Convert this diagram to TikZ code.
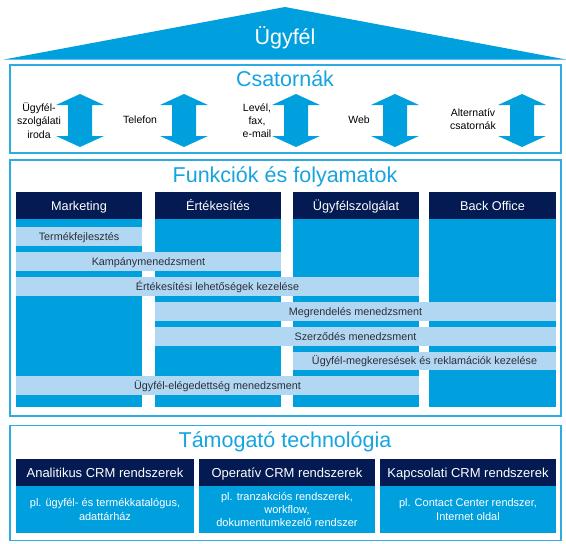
\documentclass[tikz,border=0pt]{standalone}
\usepackage{fontspec}
\setmainfont{Liberation Sans}
\definecolor{mainblue}{RGB}{0,160,222}
\definecolor{navy}{RGB}{3,26,82}
\definecolor{barc}{RGB}{178,215,242}
\definecolor{framec}{RGB}{45,172,228}
\definecolor{titlec}{RGB}{22,164,224}
\definecolor{bartext}{RGB}{45,45,55}
\tikzset{
  frame/.style={draw=framec, line width=1.7pt},
  blk/.style={anchor=north west, inner sep=0pt, outer sep=0pt},
  titletxt/.style={anchor=base, inner sep=0pt, text=titlec, font=\fontsize{21.5}{24}\selectfont},
  colhead/.style={blk, fill=navy, text=white, minimum width=#1, minimum height=27pt,
    text height=9.1pt, text depth=0pt, font=\fontsize{12.7}{15}\selectfont},
  colbody/.style={blk, fill=mainblue, minimum width=#1, minimum height=189pt},
  barbox/.style={blk, fill=barc, text=bartext, minimum width=#1, minimum height=19pt,
    text height=7.7pt, text depth=0pt, font=\fontsize{10.8}{13}\selectfont},
  techhead/.style={blk, fill=navy, text=white, minimum width=#1, minimum height=27pt,
    text height=9.3pt, text depth=0pt, font=\fontsize{13}{15}\selectfont},
  techbody/.style={blk, fill=mainblue, minimum width=#1, minimum height=47pt},
  techtxt/.style={align=center, text=white, inner sep=0pt, font=\fontsize{11}{13.3}\selectfont},
  chlabel/.style={align=center, text=black, inner sep=0pt, font=\fontsize{10.5}{13.3}\selectfont},
  updown/.pic={\fill[mainblue] (0,-26.5) -- (24,-15.5) -- (12,-15.5) -- (12,15.5) -- (24,15.5)
      -- (0,26.5) -- (-24,15.5) -- (-12,15.5) -- (-12,-15.5) -- (-24,-15.5) -- cycle;}
}
\begin{document}
\begin{tikzpicture}[x=1pt,y=-1pt]
\useasboundingbox (0,0) rectangle (566,544);
% roof
\fill[mainblue] (4,59.5) -- (285,7) -- (566,59.5) -- cycle;
\node[anchor=base, inner sep=0pt, text=white, font=\fontsize{21.5}{24}\selectfont] (roof) at (285,44) {Ügyfél};

% Csatornak
\draw[frame] (9.8,65) rectangle (561.3,153.2);
\node[titletxt] (csat) at (285,86.5) {Csatornák};
\pic (a1) at (80,120.5) {updown};
\pic (a2) at (184,120.5) {updown};
\pic (a3) at (296,120.5) {updown};
\pic (a4) at (395,120.5) {updown};
\pic (a5) at (522,120.5) {updown};
\node[chlabel] (l1) at (39,120.5) {Ügyfél-\\szolgálati\\iroda};
\node[chlabel] (l2) at (140,119.5) {Telefon};
\node[chlabel] (l3) at (257,120.5) {Levél,\\fax,\\e-mail};
\node[chlabel] (l4) at (359,119.5) {Web};
\node[chlabel] (l5) at (473,119.5) {Alternatív\\csatornák};

% Funkciok
\draw[frame] (9.8,160.2) rectangle (561.3,416);
\node[titletxt] (funk) at (285,182) {Funkciók és folyamatok};
\node[colbody=126pt] (b1) at (16,218) {};
\node[colbody=126pt] (b2) at (155,218) {};
\node[colbody=126pt] (b3) at (293,218) {};
\node[colbody=127pt] (b4) at (429,218) {};
\node[colhead=126pt] (h1) at (16,192) {Marketing};
\node[colhead=126pt] (h2) at (155,192) {Értékesítés};
\node[colhead=126pt] (h3) at (293,192) {Ügyfélszolgálat};
\node[colhead=127pt] (h4) at (429,192) {Back Office};
\node[barbox=126pt] (r1) at (16,227) {Termékfejlesztés};
\node[barbox=265pt] (r2) at (16,252) {Kampánymenedzsment};
\node[barbox=403pt] (r3) at (16,277) {Értékesítési lehetőségek kezelése};
\node[barbox=401pt] (r4) at (155,302) {Megrendelés menedzsment};
\node[barbox=401pt] (r5) at (155,327) {Szerződés menedzsment};
\node[barbox=263pt, minimum height=18pt] (r6) at (293,351.5) {Ügyfél-megkeresések és reklamációk kezelése};
\node[barbox=403pt] (r7) at (16,376) {Ügyfél-elégedettség menedzsment};

% Tamogato technologia
\draw[frame] (9.8,425.5) rectangle (561.3,540.5);
\node[titletxt] (tam) at (285,447.5) {Támogató technológia};
\node[techhead=178pt] (t1) at (16,459) {Analitikus CRM rendszerek};
\node[techhead=176pt] (t2) at (199,459) {Operatív CRM rendszerek};
\node[techhead=176pt] (t3) at (380,459) {Kapcsolati CRM rendszerek};
\node[techbody=178pt] (s1) at (16,486) {};
\node[techbody=176pt] (s2) at (199,486) {};
\node[techbody=176pt] (s3) at (380,486) {};
\node[techtxt] (s1t) at (s1.center) {pl. ügyfél- és termékkatalógus,\\adattárház};
\node[techtxt] (s2t) at (s2.center) {pl. tranzakciós rendszerek,\\workflow,\\dokumentumkezelő rendszer};
\node[techtxt] (s3t) at (s3.center) {pl. Contact Center rendszer,\\Internet oldal};
\end{tikzpicture}
\end{document}
